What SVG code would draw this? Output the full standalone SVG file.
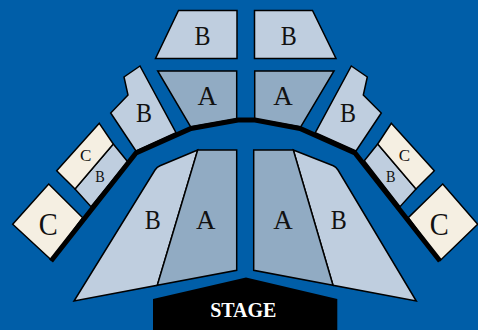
<svg xmlns="http://www.w3.org/2000/svg" width="478" height="330" viewBox="0 0 478 330">
<style>
.s{stroke:#000;stroke-width:1.5;stroke-linejoin:miter}
.a{fill:#91abc3}.b{fill:#bfcedf}.c{fill:#f5efe2}
text{font-family:"Liberation Serif","Times New Roman",serif;fill:#111;text-anchor:middle}
.l{font-size:28px}.m{font-size:31px}.n{font-size:17px}
.t{font-size:20px;font-weight:bold;fill:#fff}
</style>
<rect width="478" height="330" fill="#005ea8"/>
<g id="top-b-left"><polygon class="s b" points="178.5,10.5 237,10.5 237,58.5 155.5,58.5"/><text class="l" x="202.500" y="45" textLength="16" lengthAdjust="spacingAndGlyphs">B</text></g>
<g id="top-b-right"><polygon class="s b" points="254.500,10.500 312.500,10.500 336,58.500 254.500,58.500"/><text class="l" x="288.700" y="45" textLength="16" lengthAdjust="spacingAndGlyphs">B</text></g>
<g id="top-a-left"><polygon class="s a" points="157.700,71 236.700,71 236.700,119 190.700,127"/><text class="l" x="207.300" y="105" textLength="19.500" lengthAdjust="spacingAndGlyphs">A</text></g>
<g id="top-a-right"><polygon class="s a" points="254.700,71 334,71 300.700,127 254.700,119"/><text class="l" x="283" y="105" textLength="19.500" lengthAdjust="spacingAndGlyphs">A</text></g>
<g id="side-b-left"><polygon class="s b" points="140,66 124,77 128,95 110.700,113 136,151 176,132.700"/><text class="l" x="144" y="122" textLength="16" lengthAdjust="spacingAndGlyphs">B</text></g>
<g id="side-b-right"><polygon class="s b" points="351.300,66 367.300,77 363.300,95 381.300,113 356,151 315.300,132.700"/><text class="l" x="348" y="122" textLength="16" lengthAdjust="spacingAndGlyphs">B</text></g>
<g id="small-b-left"><polygon class="s b" points="113.300,144 127.700,161.700 91,206.700 75,189"/><text class="n" x="100" y="182" textLength="9.500" lengthAdjust="spacingAndGlyphs">B</text></g>
<g id="small-c-left"><polygon class="s c" points="99.300,123.300 113.300,144 75,189 56.700,170.700"/><text class="n" x="85.700" y="161">C</text></g>
<g id="large-c-left"><polygon class="s c" points="48.700,184 82.700,217.700 51.300,260 12.700,224.300"/><text class="m" x="48.300" y="235" textLength="19" lengthAdjust="spacingAndGlyphs">C</text></g>
<g id="small-b-right"><polygon class="s b" points="377.700,144 416,189 400,206.700 364.300,160.700"/><text class="n" x="390.700" y="182" textLength="9.500" lengthAdjust="spacingAndGlyphs">B</text></g>
<g id="small-c-right"><polygon class="s c" points="391.300,123.300 434.300,170.700 416,189 377.700,144"/><text class="n" x="404.300" y="161">C</text></g>
<g id="large-c-right"><polygon class="s c" points="442.700,184 477.700,224.300 440,260.700 408.300,217.700"/><text class="m" x="439.300" y="235" textLength="19" lengthAdjust="spacingAndGlyphs">C</text></g>
<g id="low-b-left"><path class="s b" d="M197.700 150L160 165.700Q157 167 155 170L74 301L157.300 285.300Z"/><text class="l" x="152.700" y="229" textLength="16" lengthAdjust="spacingAndGlyphs">B</text></g>
<g id="low-a-left"><polygon class="s a" points="197.700,150 236.700,150 236.700,270.300 157.300,285.300"/><text class="l" x="205.700" y="229" textLength="19.500" lengthAdjust="spacingAndGlyphs">A</text></g>
<g id="low-b-right"><path class="s b" d="M293.300 150L333.300 165.700Q336 167 338 170L416.300 301L333 285.300Z"/><text class="l" x="338.700" y="229" textLength="16" lengthAdjust="spacingAndGlyphs">B</text></g>
<g id="low-a-right"><polygon class="s a" points="253.700,150 293.300,150 333,285.300 253.700,270.300"/><text class="l" x="283" y="229" textLength="19.500" lengthAdjust="spacingAndGlyphs">A</text></g>
<g id="stage"><polygon points="153,299 246,277.500 337.300,299 337.300,330 153,330" fill="#000"/><text class="t" x="243.300" y="317">STAGE</text></g>
<g id="connectors"><polyline points="51,261 136,153 191,128.500 238,120 255,120 300,128.500 355,153 440,261" fill="none" stroke="#000" stroke-width="5" stroke-linejoin="miter"/></g>
</svg>
